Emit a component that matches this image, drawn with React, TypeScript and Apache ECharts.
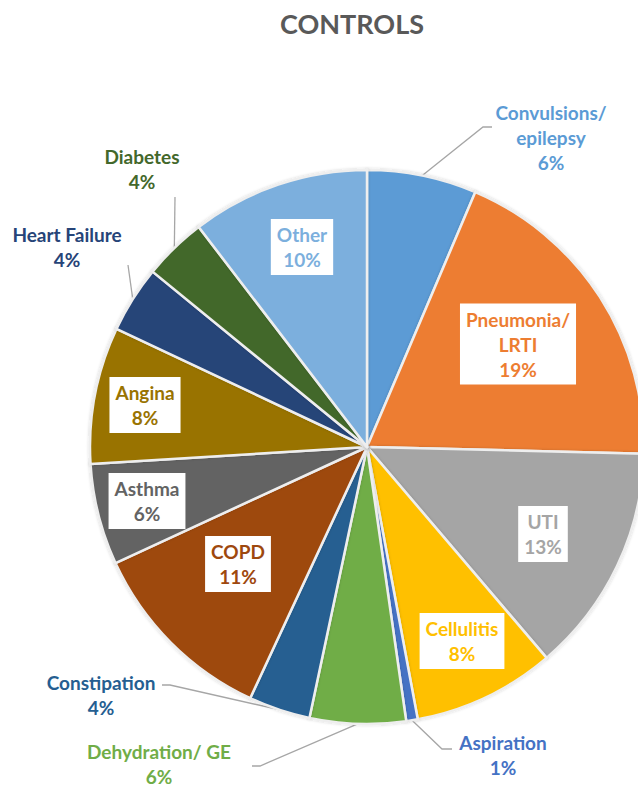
import React, { useEffect, useRef } from "react";
import * as echarts from "echarts";

// ---- data ----
const categories = [
  "Convulsions/\nepilepsy",
  "Pneumonia/\nLRTI",
  "UTI",
  "Cellulitis",
  "Aspiration",
  "Dehydration/ GE",
  "Constipation",
  "COPD",
  "Asthma",
  "Angina",
  "Heart Failure",
  "Diabetes",
  "Other",
];
const shares = [6.4, 19.0, 13.4, 8.3, 0.67, 5.6, 3.6, 11.2, 5.9, 8.0, 3.9, 3.7, 10.4];
const sliceColors = [
  "#5B9BD5", "#ED7D31", "#A5A5A5", "#FFC000", "#4472C4", "#70AD47",
  "#255E91", "#9E480E", "#636363", "#997300", "#264478", "#43682B", "#7CAFDD",
];
const chartTitle = "CONTROLS";

// ---- layout (label placement) ----
const CX = 367;
const CY = 447;
const R = 277;
const FONT = "Lato, 'Open Sans', sans-serif";
// inside labels: box centre
const insideSpots: Record<number, [number, number]> = {
  1: [518, 344],
  2: [543, 534],
  3: [462, 641],
  7: [238, 564],
  8: [147, 501],
  9: [145, 405],
  12: [302, 247],
};
// outside labels: text centre, elbow, end of leader
const outsideSpots: Record<number, { at: [number, number]; line: [number, number][] }> = {
  0: { at: [551, 137], line: [[483, 127], [492, 127]] },
  4: { at: [503, 755], line: [[442, 749], [452, 749]] },
  5: { at: [159, 764], line: [[260, 766], [252, 766]] },
  6: { at: [101, 695], line: [[170, 685], [162, 685]] },
  10: { at: [67, 247], line: [[128, 265]] },
  11: { at: [142, 169], line: [[175, 197]] },
};

export default function App() {
  const ref = useRef<HTMLDivElement>(null);
  useEffect(() => {
    document.body.style.margin = "0";
    const chart = echarts.init(ref.current!, null, { renderer: "svg" });
    const data = categories.map((name, i) => {
      const inside = insideSpots[i] != null;
      return {
        name,
        value: shares[i],
        itemStyle: { color: sliceColors[i] },
        label: inside
          ? {
              position: "inside",
              color: sliceColors[i],
              backgroundColor: "#ffffff",
              padding: [3, 6, 3, 6],
            }
          : { position: "outside", color: sliceColors[i] },
        labelLine: { show: !inside },
      };
    });
    chart.setOption({
      animation: false,
      backgroundColor: "#ffffff",
      graphic: [
        {
          type: "text",
          x: 352,
          y: 23,
          style: {
            text: chartTitle,
            align: "center",
            verticalAlign: "middle",
            font: `bold 27px ${FONT}`,
            fill: "#595959",
          },
        },
      ],
      series: [
        {
          type: "pie",
          center: [CX, CY],
          radius: R,
          startAngle: 90,
          clockwise: true,
          avoidLabelOverlap: false,
          itemStyle: {
            borderColor: "#eeeeee",
            borderWidth: 2.5,
            shadowBlur: 3,
            shadowColor: "rgba(0,0,0,0.18)",
          },
          label: {
            show: true,
            fontFamily: FONT,
            fontWeight: "bold",
            fontSize: 19,
            lineHeight: 25,
            align: "center",
            formatter: (p: any) => `${p.name}\n${Math.round(p.percent)}%`,
          },
          labelLine: {
            show: true,
            lineStyle: { color: "#a6a6a6", width: 1.3 },
          },
          labelLayout: (p: any) => {
            const i = p.dataIndex;
            if (insideSpots[i]) {
              const [x, y] = insideSpots[i];
              return { x, y, align: "center", verticalAlign: "middle" };
            }
            const o = outsideSpots[i];
            if (o) {
              const start = p.labelLinePoints ? p.labelLinePoints[0] : [CX, CY];
              return {
                x: o.at[0],
                y: o.at[1],
                align: "center",
                verticalAlign: "middle",
                labelLinePoints: [start, ...o.line],
              };
            }
            return {};
          },
          data,
        },
      ],
    });
    return () => chart.dispose();
  }, []);
  return <div ref={ref} style={{ width: 638, height: 788 }} />;
}
